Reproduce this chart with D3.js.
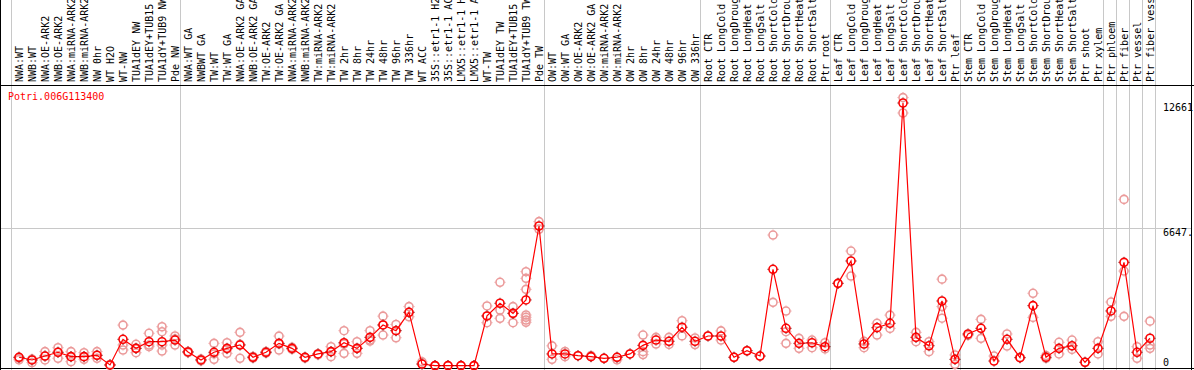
<!DOCTYPE html>
<html>
<head>
<meta charset="utf-8">
<script src="https://cdn.jsdelivr.net/npm/d3@7"></script>
<style>
  html, body { margin: 0; padding: 0; background: #fff; }
  svg { display: block; }
  text { font-family: "DejaVu Sans Mono", "Liberation Mono", monospace; font-size: 10px; }
</style>
</head>
<body>
<div id="chart"></div>
<script>
const title = "Potri.006G113400";

const sampleLabels = [
  "NWA:WT", "NWB:WT", "NWA:OE-ARK2", "NWB:OE-ARK2", "NWA:miRNA-ARK2", "NWB:miRNA-ARK2",
  "NW 0hr", "WT H2O", "WT-NW", "TUA1dEY NW", "TUA1dEY+TUB15 NW", "TUA1dY+TUB9 NW", "Pde NW",
  "NWA:WT GA", "NWBWT GA", "TW:WT", "TW:WT GA", "NWA:OE-ARK2 GA", "NWB:OE-ARK2 GA",
  "TW:OE-ARK2", "TW:OE-ARK2 GA", "NWA:miRNA-ARK2 GA", "NWB:miRNA-ARK2 GA", "TW:miRNA-ARK2",
  "TW:miRNA-ARK2 GA", "TW 2hr", "TW 8hr", "TW 24hr", "TW 48hr", "TW 96hr", "TW 336hr",
  "WT ACC", "35S::etr1-1 H2O", "35S::etr1-1 ACC", "LMX5::etr1-1 H2O", "LMX5::etr1-1 ACC",
  "WT-TW", "TUA1dEY TW", "TUA1dEY+TUB15 TW", "TUA1dY+TUB9 TW", "Pde TW",
  "OW:WT", "OW:WT GA", "OW:OE-ARK2", "OW:OE-ARK2 GA", "OW:miRNA-ARK2", "OW:miRNA-ARK2 GA",
  "OW 2hr", "OW 8hr", "OW 24hr", "OW 48hr", "OW 96hr", "OW 336hr",
  "Root CTR", "Root LongCold", "Root LongDrought", "Root LongHeat", "Root LongSalt",
  "Root ShortCold", "Root ShortDrought", "Root ShortHeat", "Root ShortSalt", "Ptr root",
  "Leaf CTR", "Leaf LongCold", "Leaf LongDrought", "Leaf LongHeat", "Leaf LongSalt",
  "Leaf ShortCold", "Leaf ShortDrought", "Leaf ShortHeat", "Leaf ShortSalt", "Ptr leaf",
  "Stem CTR", "Stem LongCold", "Stem LongDrought", "Stem LongHeat", "Stem LongSalt",
  "Stem ShortCold", "Stem ShortDrought", "Stem ShortHeat", "Stem ShortSalt", "Ptr shoot", "Ptr xylem",
  "Ptr phloem", "Ptr fiber", "Ptr vessel", "Ptr fiber vessel"
];

const groupSizes = [13, 28, 12, 10, 10, 11, 1, 1, 1, 1];

const meanValues = [
  420, 290, 480, 660, 450, 450, 515, 50, 1285, 850, 1170, 1170, 1250,
  675, 290, 660, 850, 1010, 420, 660, 1090, 850, 420, 580, 690, 1120, 850, 1380, 1975, 1700, 2585,
  95, 20, 20, 20, 20, 2410, 3020, 2535, 3180, 6740,
  580, 580, 495, 450, 370, 420, 580, 995, 1250, 1190, 1865, 1190,
  1445, 1445, 420, 735, 480, 4655, 1815, 1090, 1120, 930,
  3980, 5055, 1060, 1845, 2055, 12661, 1380, 975, 3130, 320,
  1540, 1815, 240, 1285, 400, 2905, 420, 850, 975, 180, 850,
  2650, 4990, 660, 1335
];

const replicateValues = [
  [420, 380, 300], [290, 160, 330], [690, 290, 480], [880, 370, 660], [690, 210, 450],
  [640, 320, 450], [690, 370, 515], [50, 30, 70], [1970, 1010, 770], [1045, 640, 850],
  [1575, 1010, 930], [1890, 1650, 1010, 720], [1445, 1010, 1300],
  [675, 640, 700], [290, 250, 330], [1090, 320, 580], [1120, 610, 820], [1620, 370, 1040],
  [420, 380, 460], [660, 620, 700], [1440, 770, 1060], [850, 800, 900], [420, 380],
  [580, 540], [930, 450, 690], [1700, 610, 1060], [1170, 610, 850], [1700, 1200, 1250],
  [2400, 1490, 1975], [2000, 1360, 1700], [2860, 2370, 2585],
  [200, 95], [20, 0], [20], [20], [20], [2890, 2085, 2410], [4030, 2695, 2295],
  [2860, 2085, 2535], [4540, 4220, 3690, 2455, 2345, 2215, 2105], [6950, 6580],
  [970, 320], [450, 700], [495], [450, 500], [370], [420, 300], [580],
  [1490, 690, 550], [1380, 1060], [1380, 1040], [2180, 1450], [1350, 1030],
  [1445], [1690, 1250], [420], [735], [480], [6305, 3065], [2645, 1650, 1090],
  [1330, 850], [1250, 880], [1120, 820],
  [3980], [5535, 4330], [1190, 880], [2055, 1490], [2450, 1810], [12920, 12180],
  [1620, 1170], [1170, 690], [4180, 2860, 2300], [530, 80],
  [1475], [2245, 1330], [480], [1540, 960], [400, 420], [3500, 2340], [500, 370],
  [1140, 580], [1250, 800], [180], [1170, 580],
  [3080, 2390], [8020, 4570, 2390], [930, 370], [2160, 1010, 850]
];

const yTickValues = [0, 6647, 12661];
const yTickLabels = ["0", "6647.", "12661"];

const W = 1194, H = 370;
const plotLeft = 11, plotRight = 1155, plotTop = 103, plotBottom = 366;
const frameTop = 85.5, frameBottom = 368.5, frameLeft = 0.5, frameRight = 1191.5;

const svg = d3.select("#chart").append("svg")
  .attr("width", W).attr("height", H);

const x = d3.scaleBand().domain(d3.range(sampleLabels.length)).range([plotLeft, plotRight]);
const y = d3.scaleLinear().domain([0, d3.max(yTickValues)]).range([plotBottom, plotTop]);
const px = i => x(i) + 8;

// group separators
const bounds = [0];
groupSizes.forEach(s => bounds.push(bounds[bounds.length - 1] + s));
svg.append("g").selectAll("line").data(bounds).join("line")
  .attr("x1", b => (b < sampleLabels.length ? x(b) : plotRight) + 0.5)
  .attr("x2", b => (b < sampleLabels.length ? x(b) : plotRight) + 0.5)
  .attr("y1", 0).attr("y2", H)
  .attr("stroke", "#c8c8c8").attr("stroke-width", 1);

// horizontal gridline (middle tick)
svg.append("g").selectAll("line").data(yTickValues.slice(1, 2)).join("line")
  .attr("x1", 0).attr("x2", frameRight)
  .attr("y1", d => Math.round(y(d)) + 0.5).attr("y2", d => Math.round(y(d)) + 0.5)
  .attr("stroke", "#c8c8c8").attr("stroke-width", 1);

// frame
const frame = svg.append("g").attr("stroke", "#000").attr("stroke-width", 1);
frame.append("line").attr("x1", 0).attr("x2", W).attr("y1", frameTop).attr("y2", frameTop);
frame.append("line").attr("x1", 0).attr("x2", W).attr("y1", frameBottom).attr("y2", frameBottom);
frame.append("line").attr("x1", frameLeft).attr("x2", frameLeft).attr("y1", 0).attr("y2", H);
frame.append("line").attr("x1", frameRight).attr("x2", frameRight).attr("y1", 0).attr("y2", H);

// sample labels (rotated)
svg.append("g").selectAll("text").data(sampleLabels).join("text")
  .attr("transform", (d, i) => `translate(${x(i) + 11.5},82) rotate(-90)`)
  .attr("fill", "#000")
  .text(d => d);

// y tick labels
svg.append("g").selectAll("text").data(yTickValues).join("text")
  .attr("x", 1163)
  .attr("y", (d, i) => i === 0 ? y(d) : y(d) + 8)
  .attr("fill", "#000")
  .text((d, i) => yTickLabels[i]);

// title
svg.append("text").attr("x", 8).attr("y", 100).attr("fill", "#ff0000").text(title);

// marker helper
function marker(g, cx, cy, color, tickColor) {
  g.append("circle").attr("cx", cx).attr("cy", cy).attr("r", 4)
    .attr("fill", "none").attr("stroke", color).attr("stroke-width", 1.6);
  const t = [[0, -4.5, 0, -5.5], [0, 4.5, 0, 5.5], [-4.5, 0, -5.5, 0], [4.5, 0, 5.5, 0]];
  t.forEach(([a, b, c, d]) => g.append("line")
    .attr("x1", cx + a).attr("y1", cy + b).attr("x2", cx + c).attr("y2", cy + d)
    .attr("stroke", tickColor).attr("stroke-width", 1));
}

// replicates
const repG = svg.append("g");
replicateValues.forEach((vals, i) => {
  vals.forEach(v => marker(repG, px(i), y(v), "#eb9a9a", "#eb9a9a"));
});

// mean line
svg.append("path")
  .datum(meanValues)
  .attr("fill", "none").attr("stroke", "#ff0000").attr("stroke-width", 1.2)
  .attr("d", d3.line().x((d, i) => px(i)).y(d => y(d)));

// mean markers
const meanG = svg.append("g");
meanValues.forEach((v, i) => marker(meanG, px(i), y(v), "#ff0000", "#700000"));
</script>
</body>
</html>
